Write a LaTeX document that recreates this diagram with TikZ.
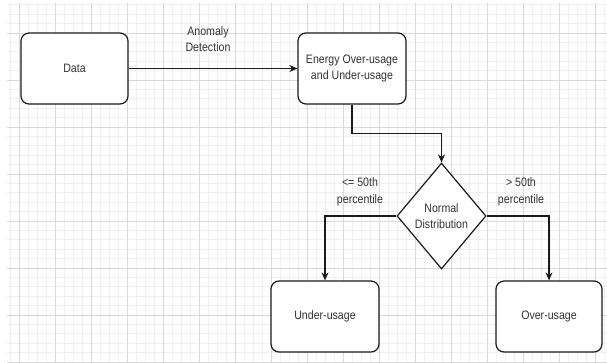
\documentclass[tikz,border=0pt]{standalone}
\usepackage{fontspec}
\setmainfont[FakeStretch=0.87]{Liberation Sans}
\usetikzlibrary{shapes.geometric,arrows.meta}
\definecolor{txt}{HTML}{333333}
\definecolor{ln}{HTML}{1A1A1A}
\begin{document}
\begin{tikzpicture}[x=1pt,y=-1pt,
  font=\fontsize{12.2}{16.5}\selectfont,
  box/.style={draw=ln,line width=1.2pt,rounded corners=8pt,fill=white,text=txt,align=center,inner sep=0pt},
  dia/.style={draw=ln,line width=1.2pt,shape=diamond,fill=white,text=txt,align=center,inner sep=0pt,aspect=0.84,minimum width=89pt,minimum height=106pt},
  arr/.style={draw=ln,line width=1.2pt,-{Stealth[length=8pt,width=7pt]}},
  lbl/.style={text=txt,align=center,inner sep=0pt},
  minorgrid/.style={draw=gray!12,line width=0.6pt},
  majorgrid/.style={draw=gray!30,line width=0.8pt}]
\useasboundingbox (0,0) rectangle (607,362);
\fill[white] (0,0) rectangle (607,362);
\begin{scope}
\clip (7,3) rectangle (607,362);
\foreach \i in {0,...,66} \draw[minorgrid] ({10+9*\i},0) -- ({10+9*\i},362);
\foreach \j in {0,...,38} \draw[minorgrid] (0,{4.6+9.4*\j}) -- (607,{4.6+9.4*\j});
\foreach \k in {0,...,16} \draw[majorgrid] ({19+36*\k},0) -- ({19+36*\k},362);
\foreach \k in {0,...,7} \draw[majorgrid] (0,{33+47*\k}) -- (607,{33+47*\k});
\end{scope}

\node[box,minimum width=107pt,minimum height=71pt] (data) at (74.5,68.5) {Data};
\node[box,minimum width=108pt,minimum height=71pt] (energy) at (352,68.5) {Energy Over-usage\\and Under-usage};
\node[dia] (nd) at (441.5,216) {Normal\\Distribution};
\node[box,minimum width=108pt,minimum height=71pt] (under) at (325,316.5) {Under-usage};
\node[box,minimum width=106pt,minimum height=71pt] (over) at (549,316.5) {Over-usage};

\draw[arr] (data.east) -- (energy.west);
\node[lbl] (lad) at (208,39) {Anomaly\\Detection};
\draw[arr] (energy.south) -- ++(0,29) -| (nd.north);
\draw[arr] (nd.west) -| (under.north);
\draw[arr] (nd.east) -| (over.north);
\node[lbl] (lle) at (360,192) {<= 50th\\percentile};
\node[lbl] (lgt) at (521,192) {> 50th\\percentile};
\end{tikzpicture}
\end{document}
